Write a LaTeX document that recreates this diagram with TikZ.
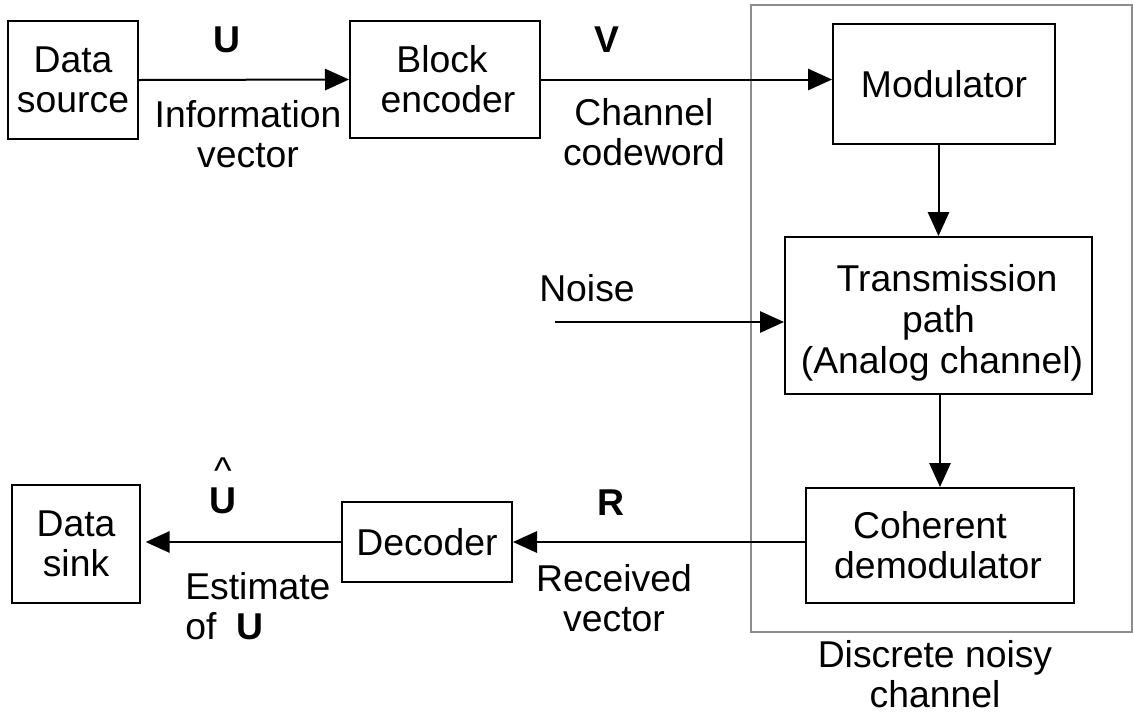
\documentclass[tikz,border=0pt]{standalone}
\usepackage{fontspec}
\setmainfont{Liberation Sans}
\usetikzlibrary{arrows.meta}
\definecolor{framegray}{HTML}{8C8C8C}
\tikzset{
  blk/.style={draw, line width=1.5pt, inner sep=0pt, align=center},
  lbl/.style={inner sep=0pt, align=center},
  conn/.style={line width=1.5pt, -{Triangle[length=18pt,width=16pt]}},
}
\begin{document}
\begin{tikzpicture}[x=0.75pt, y=-0.75pt, font=\fontsize{28pt}{30pt}\selectfont]
\useasboundingbox (0,0) rectangle (1133,715);

% discrete noisy channel frame
\node[draw=framegray, line width=1.5pt, minimum width=285.75pt, minimum height=470.25pt, inner sep=0pt] (dnc) at (941.5,318.5) {};
\node[lbl] (dnclabel) at (935,674) {Discrete noisy\\channel};

% blocks
\node[blk, minimum width=97.5pt, minimum height=88.5pt] (src) at (73,80) {Data\\source};
\node[blk, minimum width=142.5pt, minimum height=87.75pt] (enc) at (445,79.5) {Block\hspace*{4.5pt}\\\hspace*{4.5pt}encoder};
\node[blk, minimum width=166.5pt, minimum height=90pt] (mod) at (944,84) {Modulator};
\node[blk, minimum width=230.25pt, minimum height=117.75pt] (trans) at (938.5,315.5) {};
\node[lbl, font=\fontsize{28pt}{31pt}\selectfont] (transtext) at (938.5,323) {\hspace*{12.75pt}Transmission\\path\hspace*{15.75pt}\\\hspace*{5.25pt}(Analog channel)};
\node[blk, minimum width=201pt, minimum height=86.25pt] (coh) at (940,545.5) {Coherent\hspace*{15pt}\\demodulator\hspace*{3pt}};
\node[blk, minimum width=127.5pt, minimum height=60pt] (dec) at (427,542) {Decoder};
\node[blk, minimum width=96pt, minimum height=88.5pt] (sink) at (76,544) {Data\\sink};

% labels
\node[lbl] (ulabel) at (227,40) {\textbf{U}};
\node[lbl] (infolabel) at (248,134) {Information\\vector};
\node[lbl] (vlabel) at (607,40) {\textbf{V}};
\node[lbl] (cwlabel) at (644,132) {Channel\\codeword};
\node[lbl] (noiselabel) at (587,288) {Noise};
\node[lbl] (rlabel) at (611,503) {\textbf{R}};
\node[lbl] (rvlabel) at (614,598) {Received\\vector};
\node[lbl] (uhatlabel) at (223,486) {\textasciicircum\\[-7.5pt]\textbf{U}};
\node[lbl, anchor=west, align=left] (estlabel) at (185,606) {Estimate\\of\hspace{15pt}\textbf{U}};

% connectors
\coordinate (noisestart) at (555,322);
\draw[conn] (src.east) -- (enc.west);
\draw[conn] (enc.east) -- (enc.east -| mod.west);
\draw[conn] (trans.north |- mod.south) -- (trans.north);
\draw[conn] (noisestart) -- (noisestart -| trans.west);
\draw[conn] (coh.north |- trans.south) -- (coh.north);
\draw[conn] (dec.east -| coh.west) -- (dec.east);
\draw[conn, shorten >=3.5pt] (dec.west) -- (dec.west -| sink.east);
\end{tikzpicture}
\end{document}
